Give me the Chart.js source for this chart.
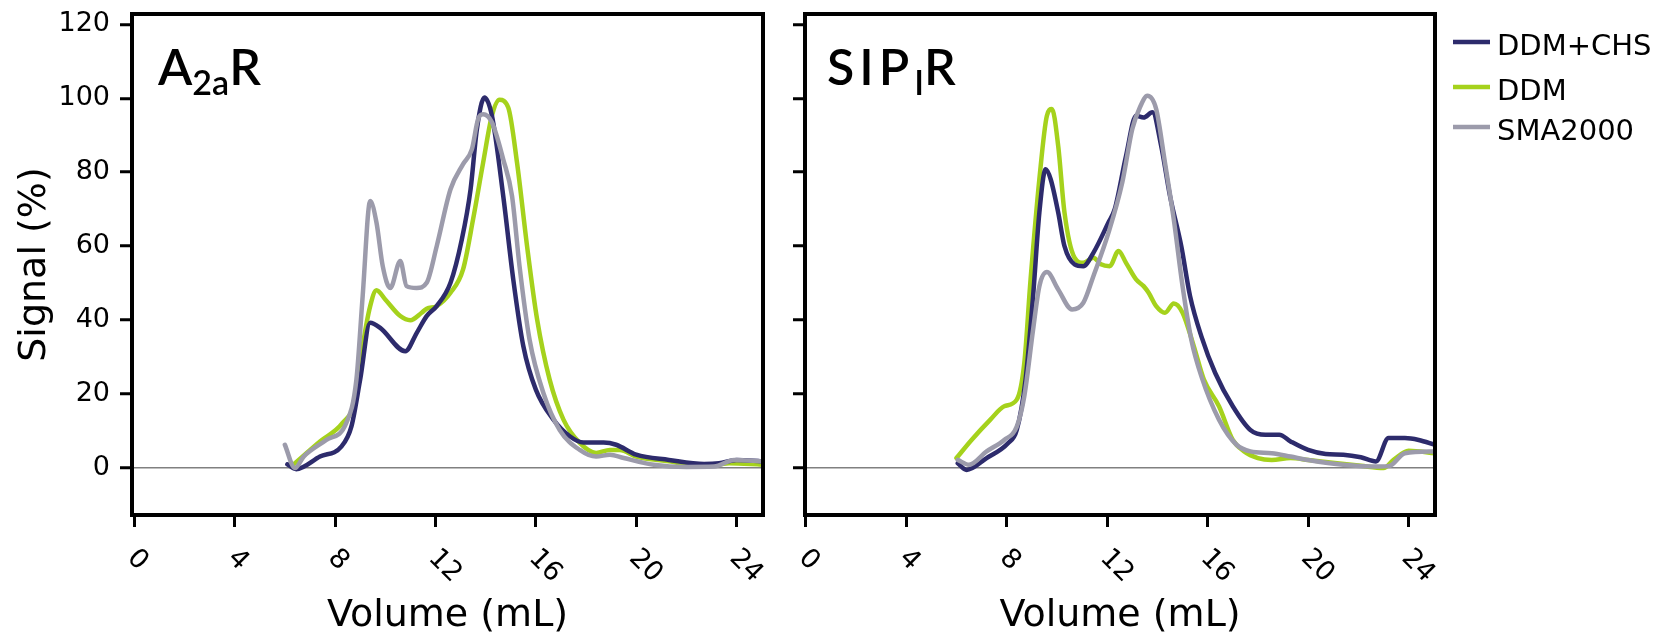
<!DOCTYPE html>
<html>
<head>
<meta charset="utf-8">
<script src="https://cdn.jsdelivr.net/npm/chart.js@4.4.1/dist/chart.umd.min.js"></script>
<style>
  body { margin: 0; background: #fff; }
  #wrap { position: relative; width: 1660px; height: 640px; }
  canvas { position: absolute; top: 0; }
  #leftPanel { left: 0; }
  #rightPanel { left: 780px; }
</style>
</head>
<body>
<div id="wrap">
  <canvas id="leftPanel" width="780" height="640"></canvas>
  <canvas id="rightPanel" width="880" height="640"></canvas>
</div>
<script>
// tick values
const volumeTicks = [0, 4, 8, 12, 16, 20, 24];
const signalTicks = [0, 20, 40, 60, 80, 100, 120];

const seriesNames = ['DDM+CHS', 'DDM', 'SMA2000'];
const seriesColors = ['#2d2b6c', '#a5d21c', '#9c9bab'];

// A2aR panel
const a2aVolDdmChs = [6.1, 6.45, 7.4, 8.25, 8.65, 9.0, 9.4, 9.8, 10.8, 11.25, 11.65, 12.05, 12.6, 13.05, 13.4, 13.65, 13.95, 14.25, 14.7, 15.1, 15.5, 16.0, 16.7, 17.35, 17.9, 18.7, 19.2, 20.0, 21.3, 22.7, 23.3, 24.0, 25.0];
const a2aSigDdmChs = [1.0, -0.3, 3.1, 5.8, 11.2, 23.9, 39.3, 37.9, 31.6, 36.5, 41.1, 43.8, 50.1, 61.8, 75.4, 91.6, 100.2, 95.3, 73.6, 51, 33, 21.2, 13.1, 8.6, 6.9, 6.9, 6.3, 3.6, 2.2, 1.1, 1.3, 2.2, 1.8];

const a2aVolDdm = [6.25, 7.4, 8.3, 8.8, 9.1, 9.4, 9.65, 10.0, 10.6, 11.0, 11.45, 11.65, 12.05, 12.6, 13.1, 13.5, 13.9, 14.25, 14.55, 14.9, 15.25, 15.65, 16.05, 16.55, 17.1, 17.75, 18.4, 18.95, 19.35, 20.0, 21.3, 22.7, 23.7, 25.0];
const a2aSigDdm = [0.4, 7.2, 12.2, 18.5, 33, 43.8, 48.1, 45.6, 41.1, 40, 42, 43.1, 43.8, 47.4, 53.7, 67.3, 82.6, 95.3, 99.6, 97.5, 82.6, 60, 40.2, 23.9, 13.1, 6.8, 4.1, 4.9, 4.9, 3.1, 1.8, 0.4, 1.3, 0.9];

const a2aVolSma = [6.0, 6.4, 6.75, 7.65, 8.45, 8.85, 9.1, 9.4, 9.65, 9.9, 10.2, 10.6, 10.85, 11.25, 11.65, 12.05, 12.6, 13.1, 13.45, 13.7, 13.9, 14.25, 14.7, 15.05, 15.35, 15.75, 16.3, 16.95, 17.75, 18.4, 18.95, 19.5, 20.7, 22.0, 23.1, 23.9, 25.0];
const a2aSigSma = [6.3, 0, 3.1, 7.6, 12.2, 23.9, 46.5, 72.2, 66.4, 54.6, 48.7, 56, 49.2, 48.7, 50.1, 60, 75.4, 82.2, 86.2, 94.4, 95.7, 93.5, 83.5, 73.6, 54.6, 34.7, 20.3, 10.3, 4.9, 3.1, 3.6, 2.7, 0.9, 0.3, 0.4, 2.2, 1.8];

// S1P1R panel
const s1pVolDdmChs = [6.05, 6.4, 7.2, 8.05, 8.4, 8.75, 9.05, 9.3, 9.55, 9.75, 10.05, 10.3, 10.7, 11.05, 11.45, 12.05, 12.3, 12.75, 13.15, 13.45, 13.8, 14.15, 14.5, 14.95, 15.3, 15.75, 16.3, 17.0, 17.7, 18.3, 18.85, 19.3, 20.0, 20.7, 21.4, 22.1, 22.7, 23.2, 23.85, 24.4, 25.05];
const s1pSigDdmChs = [1.3, -0.5, 2.7, 6.7, 10.3, 23.9, 46.5, 69.1, 80.8, 78.1, 69.1, 60, 55.1, 54.6, 58.2, 66.4, 70, 84.4, 95.3, 94.8, 96.2, 87.1, 73.6, 60, 46.5, 35.6, 25.7, 16.7, 10.3, 9.0, 9.0, 7.2, 4.9, 3.8, 3.6, 2.9, 1.8, 8.1, 8.1, 7.6, 6.3];

const s1pVolDdm = [6.0, 6.6, 7.35, 7.9, 8.4, 8.7, 8.95, 9.3, 9.6, 9.8, 10.05, 10.3, 10.7, 11.05, 11.45, 11.75, 12.1, 12.45, 12.75, 13.15, 13.45, 13.65, 13.95, 14.3, 14.65, 15.0, 15.45, 15.85, 16.45, 17.0, 17.45, 18.0, 18.55, 19.3, 20.0, 21.15, 22.1, 23.0, 23.4, 24.0, 25.05];
const s1pSigDdm = [2.7, 7.6, 13.1, 16.7, 18.5, 28.4, 51, 78.1, 95.3, 97.1, 87.1, 69.1, 56.9, 55.5, 56.9, 55.1, 54.6, 58.7, 55.5, 51, 49.2, 47.4, 43.8, 42, 44.5, 42, 32.9, 23.9, 16.7, 7.6, 4.5, 2.7, 2.2, 2.7, 2.2, 1.3, 0.6, 0, 2.2, 4.7, 4.0];

const s1pVolSma = [6.05, 6.5, 7.2, 7.9, 8.4, 8.7, 9.05, 9.3, 9.6, 10.05, 10.6, 11.05, 11.45, 12.05, 12.6, 13.0, 13.3, 13.6, 13.95, 14.3, 14.65, 15.0, 15.35, 15.75, 16.45, 17.15, 17.7, 18.55, 19.3, 20.0, 21.4, 22.85, 23.25, 23.85, 25.05];
const s1pSigSma = [2.2, 0.9, 4.5, 7.6, 11.2, 19.4, 37.4, 49.2, 53, 48.3, 42.9, 44.7, 51.9, 63.6, 77.2, 91.7, 97.5, 100.7, 97.1, 82.6, 67.3, 49.2, 34.7, 24.8, 13.1, 6.3, 4.5, 4.0, 3.1, 2.2, 0.9, 0.4, 0.6, 4.0, 4.5];

const TICK_SIZE = 27;
const TITLE_FAMILY = 'Lato, "Open Sans", sans-serif';

function zip(xs, ys) {
  return xs.map((x, i) => ({ x, y: ys[i] }));
}

function buildDatasets(pairs) {
  const drawOrder = [2, 3, 1];
  return pairs.map((p, i) => ({
    label: seriesNames[i],
    data: zip(p[0], p[1]),
    borderColor: seriesColors[i],
    backgroundColor: seriesColors[i],
    order: drawOrder[i]
  }));
}

// no extra room for half-labels at the ends of the axes
function noEdgePadding(axis) {
  axis.paddingTop = 0;
  axis.paddingBottom = 0;
  axis.paddingLeft = 0;
  axis.paddingRight = 0;
}

// black box round the plot area
const framePlugin = {
  id: 'frame',
  afterDraw(chart) {
    const { ctx, chartArea: a } = chart;
    ctx.save();
    ctx.strokeStyle = '#000';
    ctx.lineWidth = 4;
    ctx.strokeRect(a.left, a.top, a.right - a.left, a.bottom - a.top);
    ctx.restore();
  }
};

// x tick labels are turned clockwise, so they are drawn here
const slantedTicksPlugin = {
  id: 'slantedTicks',
  afterDraw(chart) {
    const { ctx } = chart;
    const xScale = chart.scales.x;
    ctx.save();
    ctx.font = `${TICK_SIZE}px "DejaVu Sans"`;
    ctx.fillStyle = '#000';
    ctx.textAlign = 'left';
    ctx.textBaseline = 'middle';
    xScale.ticks.forEach((t) => {
      const px = xScale.getPixelForValue(t.value);
      ctx.save();
      ctx.translate(px - 3, xScale.top + 39);
      ctx.rotate(Math.PI / 4);
      ctx.fillText(String(t.value), 0, 0);
      ctx.restore();
    });
    ctx.restore();
  }
};

function panelTitlePlugin(runs, dx) {
  return {
    id: 'panelTitle',
    afterDraw(chart) {
      const { ctx, chartArea } = chart;
      let x = chartArea.left + dx;
      const y = 85;
      ctx.save();
      ctx.fillStyle = '#000';
      ctx.textBaseline = 'alphabetic';
      runs.forEach((r) => {
        ctx.font = `600 ${r.size}px ${TITLE_FAMILY}`;
        ctx.letterSpacing = (r.spacing || 0) + 'px';
        ctx.fillText(r.text, x, y + (r.dy || 0));
        x += ctx.measureText(r.text).width + (r.gap || 0);
      });
      ctx.letterSpacing = '0px';
      ctx.restore();
    }
  };
}

const legendPlugin = {
  id: 'lineLegend',
  afterDraw(chart) {
    const { ctx } = chart;
    const baselines = [55, 100, 140];
    ctx.save();
    ctx.font = '29px "DejaVu Sans"';
    ctx.textBaseline = 'alphabetic';
    ctx.textAlign = 'left';
    chart.data.datasets.forEach((ds, i) => {
      const y = baselines[i];
      ctx.strokeStyle = ds.borderColor;
      ctx.lineWidth = 4.5;
      ctx.beginPath();
      ctx.moveTo(673, y - 13);
      ctx.lineTo(710, y - 13);
      ctx.stroke();
      ctx.fillStyle = '#000';
      ctx.fillText(ds.label, 717, y);
    });
    ctx.restore();
  }
};

function makePanel(canvasId, datasets, cfg) {
  return new Chart(document.getElementById(canvasId), {
    type: 'line',
    data: { datasets },
    options: {
      responsive: false,
      animation: false,
      devicePixelRatio: 1,
      layout: { padding: { top: 14, right: cfg.rightPad, left: 0, bottom: 0 } },
      elements: {
        point: { radius: 0 },
        line: { borderWidth: 4.5, cubicInterpolationMode: 'monotone', borderJoinStyle: 'round', borderCapStyle: 'round' }
      },
      plugins: { legend: { display: false }, tooltip: { enabled: false } },
      scales: {
        x: {
          type: 'linear',
          min: cfg.xMin,
          max: 25.05,
          afterBuildTicks: (axis) => { axis.ticks = volumeTicks.map((v) => ({ value: v })); },
          afterFit: (axis) => { axis.height = 125; noEdgePadding(axis); },
          ticks: { display: false },
          border: { display: false },
          grid: { drawOnChartArea: false, drawTicks: true, tickLength: 12, tickWidth: 3, tickColor: '#000' },
          title: {
            display: true,
            text: 'Volume (mL)',
            color: '#000',
            font: { family: 'DejaVu Sans', size: 38 },
            padding: { top: 0, bottom: 1 }
          }
        },
        y: {
          type: 'linear',
          min: -12.7,
          max: 122.8,
          afterBuildTicks: (axis) => { axis.ticks = signalTicks.map((v) => ({ value: v })); },
          afterFit: (axis) => { axis.width = cfg.yWidth; noEdgePadding(axis); },
          ticks: { display: cfg.yLabels, color: '#000', font: { family: 'DejaVu Sans', size: TICK_SIZE }, padding: 10 },
          border: { display: false },
          grid: {
            color: (c) => (c.tick && c.tick.value === 0 ? '#808080' : 'rgba(0,0,0,0)'),
            lineWidth: 1.5,
            drawTicks: true,
            tickLength: 12,
            tickWidth: 3,
            tickColor: '#000'
          },
          title: {
            display: cfg.yLabels,
            text: 'Signal (%)',
            color: '#000',
            font: { family: 'DejaVu Sans', size: 38 },
            padding: { top: 12, bottom: 0 }
          }
        }
      }
    },
    plugins: [framePlugin, slantedTicksPlugin].concat(cfg.extra)
  });
}

makePanel('leftPanel', buildDatasets([
  [a2aVolDdmChs, a2aSigDdmChs],
  [a2aVolDdm, a2aSigDdm],
  [a2aVolSma, a2aSigSma]
]), {
  rightPad: 17,
  yWidth: 132,
  yLabels: true,
  xMin: -0.09,
  extra: [panelTitlePlugin([
    { text: 'A', size: 50 },
    { text: '2a', size: 34, dy: 10 },
    { text: 'R', size: 50 }
  ], 26)]
});

makePanel('rightPanel', buildDatasets([
  [s1pVolDdmChs, s1pSigDdmChs],
  [s1pVolDdm, s1pSigDdm],
  [s1pVolSma, s1pSigSma]
]), {
  rightPad: 225,
  yWidth: 25,
  yLabels: false,
  xMin: -0.03,
  extra: [legendPlugin, panelTitlePlugin([
    { text: 'SIP', size: 50, spacing: 5 },
    { text: 'I', size: 34, dy: 10 },
    { text: 'R', size: 50 }
  ], 22)]
});
</script>
</body>
</html>
